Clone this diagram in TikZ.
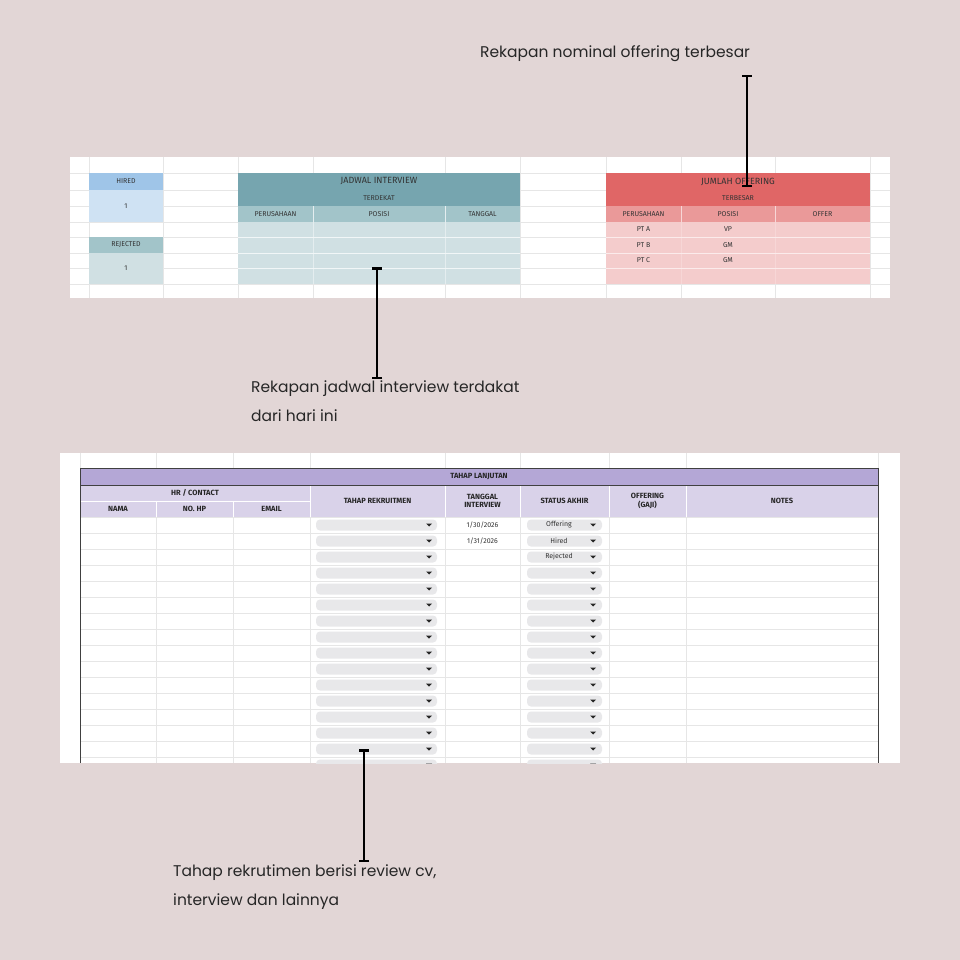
\documentclass[tikz,border=0pt]{standalone}
\usepackage{fontspec}
\setmainfont{Poppins}
\newfontfamily\tbl{Fira Sans}
\usetikzlibrary{arrows.meta}
\definecolor{bg}{HTML}{E2D6D6}
\definecolor{gridc}{HTML}{E6E6E6}
\definecolor{hb}{HTML}{9FC5E8}\definecolor{hbl}{HTML}{CFE2F3}
\definecolor{tq}{HTML}{76A5AF}\definecolor{tqm}{HTML}{A2C4C9}\definecolor{tql}{HTML}{D0E0E3}
\definecolor{rd}{HTML}{E06666}\definecolor{rdm}{HTML}{EA9999}\definecolor{rdl}{HTML}{F4CCCC}
\definecolor{pu}{HTML}{B4A7D6}\definecolor{pul}{HTML}{D9D2E9}
\definecolor{pill}{HTML}{E8E8EA}
\begin{document}
\begin{tikzpicture}[x=1pt,y=-1pt,
  t/.style={font=\tbl\fontsize{7}{8}\selectfont,text=black!80,inner sep=0},
  tb/.style={font=\tbl\bfseries\fontsize{7.5}{8.5}\selectfont,text=black!85,inner sep=0,align=center},
  ann/.style={font=\fontsize{15.5}{29}\selectfont,anchor=north west,inner sep=0,align=left,text=black!85},
  callout/.style={line width=2.5pt,{Bar[width=10pt,length=0pt]}-{Bar[width=10pt,length=0pt]}},
  pillst/.style={fill=pill,rounded corners=4pt}]
\fill[bg] (0,0) rectangle (960,960);
% ---- top panel
\fill[white] (70,157) rectangle (890,298);
\foreach \x in {89,163,238,313,445,520,606,681,775,870} \draw[gridc,line width=.6pt] (\x,157)--(\x,298);
\foreach \y in {173,190,206,222,237,253,268,284} \draw[gridc,line width=.6pt] (70,\y)--(890,\y);
\fill[hb] (89,173) rectangle (163,190); \fill[hbl] (89,190) rectangle (163,222);
\fill[tqm] (89,237) rectangle (163,253); \fill[tql] (89,253) rectangle (163,284);
\node[t] (h1) at (126,181.5) {HIRED}; \node[t] (h2) at (126,206) {1};
\node[t] (r1) at (126,245) {REJECTED}; \node[t] (r2) at (126,268.5) {1};
\fill[tq] (238,173) rectangle (520,206); \fill[tqm] (238,206) rectangle (520,222); \fill[tql] (238,222) rectangle (520,284);
\foreach \x in {313,445} \draw[white!80!tq,line width=.6pt] (\x,206)--(\x,284);
\foreach \y in {237,253,268} \draw[white!70!tql,line width=.6pt] (238,\y)--(520,\y);
\node[t,font=\tbl\fontsize{9}{10}\selectfont] (j1) at (379,181.5) {JADWAL INTERVIEW};
\node[t] (j2) at (379,198) {TERDEKAT};
\node[t] at (275.5,214) {PERUSAHAAN}; \node[t] (jpos) at (379,214) {POSISI}; \node[t] at (482.5,214) {TANGGAL};
\fill[rd] (606,173) rectangle (870,206); \fill[rdm] (606,206) rectangle (870,222); \fill[rdl] (606,222) rectangle (870,284);
\foreach \x in {681,775} \draw[white!60!rdm,line width=.6pt] (\x,206)--(\x,284);
\foreach \y in {237,253,268} \draw[white!60!rdl,line width=.6pt] (606,\y)--(870,\y);
\node[t,font=\tbl\fontsize{9}{10}\selectfont] (o1) at (738,181.5) {JUMLAH OFFERING};
\node[t] at (738,198) {TERBESAR};
\node[t] at (643.5,214) {PERUSAHAAN}; \node[t] at (728,214) {POSISI}; \node[t] at (822.5,214) {OFFER};
\node[t] at (643.5,229.5) {PT A}; \node[t] at (728,229.5) {VP};
\node[t] at (643.5,245) {PT B}; \node[t] at (728,245) {GM};
\node[t] at (643.5,260.5) {PT C}; \node[t] at (728,260.5) {GM};
% ---- bottom panel
\fill[white] (60,453) rectangle (900,763);
\begin{scope}
\clip (60,453) rectangle (900,763);
\foreach \x in {80,156,233,310,445,520,609,686,878} \draw[gridc,line width=.6pt] (\x,453)--(\x,468);
\fill[pu] (80,468) rectangle (878,485); \fill[pul] (80,485) rectangle (878,517);
\draw[white,line width=.6pt] (80,501)--(310,501);
\foreach \x in {156,233} \draw[white,line width=.6pt] (\x,501)--(\x,517);
\foreach \x in {310,445,520,609,686} \draw[white,line width=.6pt] (\x,485)--(\x,517);
\foreach \x in {156,233,310,445,520,609,686} \draw[gridc,line width=.6pt] (\x,517)--(\x,763);
\foreach \k in {0,...,15} {
  \pgfmathsetmacro\yy{517+16*\k}
  \draw[gridc,line width=.6pt] (80,\yy)--(878,\yy);
  \fill[pillst] (316,\yy+2.5) rectangle (437,\yy+13.5);
  \fill[pillst] (527,\yy+2.5) rectangle (602,\yy+13.5);
  \fill[black!85] (426,\yy+6.5)--(432,\yy+6.5)--(429,\yy+9.5)--cycle;
  \fill[black!85] (590,\yy+6.5)--(596,\yy+6.5)--(593,\yy+9.5)--cycle;
}
\draw[black!75,line width=.8pt] (80,763)--(80,468)--(878,468)--(878,763);
\draw[black!75,line width=.6pt] (80,485)--(878,485);
\end{scope}
\node[tb] (tl) at (479,476.5) {TAHAP LANJUTAN};
\node[tb] at (195,493) {HR / CONTACT};
\node[tb] at (118,509) {NAMA}; \node[tb] at (194.5,509) {NO. HP}; \node[tb] at (271.5,509) {EMAIL};
\node[tb] at (377.5,501) {TAHAP REKRUITMEN};
\node[tb] at (482.5,501) {TANGGAL\\INTERVIEW};
\node[tb] at (564.5,501) {STATUS AKHIR};
\node[tb] at (647.5,501) {OFFERING\\(GAJI)};
\node[tb] at (782,501) {NOTES};
\node[t] at (482.5,525) {1/30/2026}; \node[t] at (482.5,541) {1/31/2026};
\node[t] at (559,525) {Offering}; \node[t] at (559,541) {Hired}; \node[t] at (559,557) {Rejected};
\coordinate (drop) at (364,749);
% ---- annotations
\node[ann] (a1) at (480,45) {Rekapan nominal offering terbesar};
\coordinate (a1top) at (747,75); \coordinate (a1bot) at (747,187);
\draw[callout] (a1top)--(a1bot);
\node[ann] (a2) at (251,381) {Rekapan jadwal interview terdakat\\dari hari ini};
\coordinate (a2top) at (377,267); \coordinate (a2bot) at (377,379);
\draw[callout] (a2top)--(a2bot);
\node[ann] (a3) at (173,864) {Tahap rekrutimen berisi review cv,\\interview dan lainnya};
\coordinate (a3bot) at (364,862);
\draw[callout] (drop)--(a3bot);
\end{tikzpicture}
\end{document}
